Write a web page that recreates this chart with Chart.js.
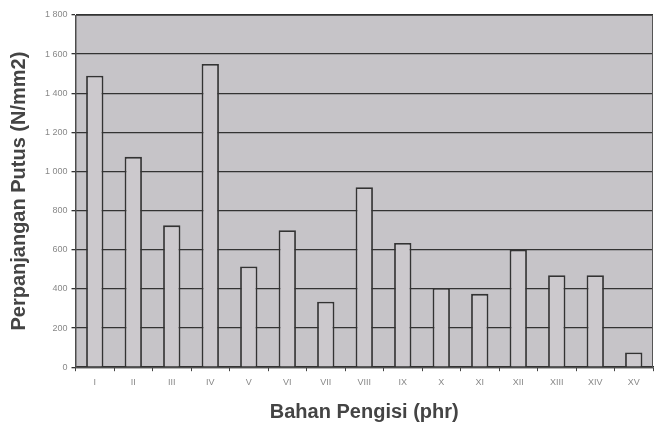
<!DOCTYPE html>
<html>
<head>
<meta charset="utf-8">
<script src="https://cdn.jsdelivr.net/npm/chart.js@4/dist/chart.umd.min.js"></script>
<style>
  body { margin: 0; background: #fff; }
  #wrap { width: 659px; height: 428px; }
</style>
</head>
<body>
<div id="wrap"><canvas id="c"></canvas></div>
<script>
// data
const categories = ["I", "II", "III", "IV", "V", "VI", "VII", "VIII", "IX", "X", "XI", "XII", "XIII", "XIV", "XV"];
const values = [1490, 1075, 725, 1550, 515, 700, 335, 920, 635, 405, 375, 600, 470, 470, 75];
const yTicks = [0, 200, 400, 600, 800, 1000, 1200, 1400, 1600, 1800];

// grey plot background + frame
const plotBg = {
  id: "plotBg",
  beforeDraw(chart) {
    const { ctx, chartArea: a } = chart;
    ctx.save();
    ctx.fillStyle = "#c6c4c8";
    ctx.fillRect(a.left, a.top, a.right - a.left, a.bottom - a.top);
    ctx.restore();
  },
  afterDraw(chart) {
    const { ctx, chartArea: a } = chart;
    ctx.save();
    ctx.strokeStyle = "#555";
    ctx.lineWidth = 1;
    ctx.strokeRect(a.left + 0.5, a.top + 0.5, a.right - a.left - 1, a.bottom - a.top);
    ctx.restore();
  }
};

new Chart(document.getElementById("c"), {
  type: "bar",
  data: {
    labels: categories,
    datasets: [{
      data: values,
      backgroundColor: "#ccc9cd",
      borderColor: "#333",
      borderWidth: 1.8,
      barPercentage: 0.45,
      categoryPercentage: 1
    }]
  },
  options: {
    responsive: true,
    maintainAspectRatio: false,
    animation: false,
    layout: { padding: { top: 15, right: 6, left: 3, bottom: 0 } },
    plugins: { legend: { display: false }, tooltip: { enabled: false } },
    scales: {
      x: {
        grid: { drawOnChartArea: false, color: "#444", tickLength: 4, offset: true },
        border: { color: "#333", width: 1.5 },
        ticks: { color: "#888", font: { family: "Arial", size: 9 }, padding: 6 },
        title: { display: true, text: "Bahan Pengisi (phr)", color: "#444", font: { family: "Arial", size: 20, weight: "bold" }, padding: { top: 6 } }
      },
      y: {
        min: 0,
        max: 1800,
        afterBuildTicks(axis) { axis.ticks = yTicks.map(v => ({ value: v })); },
        grid: { color: "#333", lineWidth: 1.3, tickLength: 4 },
        border: { color: "#444", width: 1 },
        ticks: {
          color: "#888",
          font: { family: "Arial", size: 9 },
          padding: 4,
          callback: v => v >= 1000 ? Math.floor(v / 1000) + " " + String(v % 1000).padStart(3, "0") : String(v)
        },
        title: { display: true, text: "Perpanjangan Putus (N/mm2)", color: "#444", font: { family: "Arial", size: 20, weight: "bold" }, padding: { bottom: 10 } }
      }
    }
  },
  plugins: [plotBg]
});
</script>
</body>
</html>
